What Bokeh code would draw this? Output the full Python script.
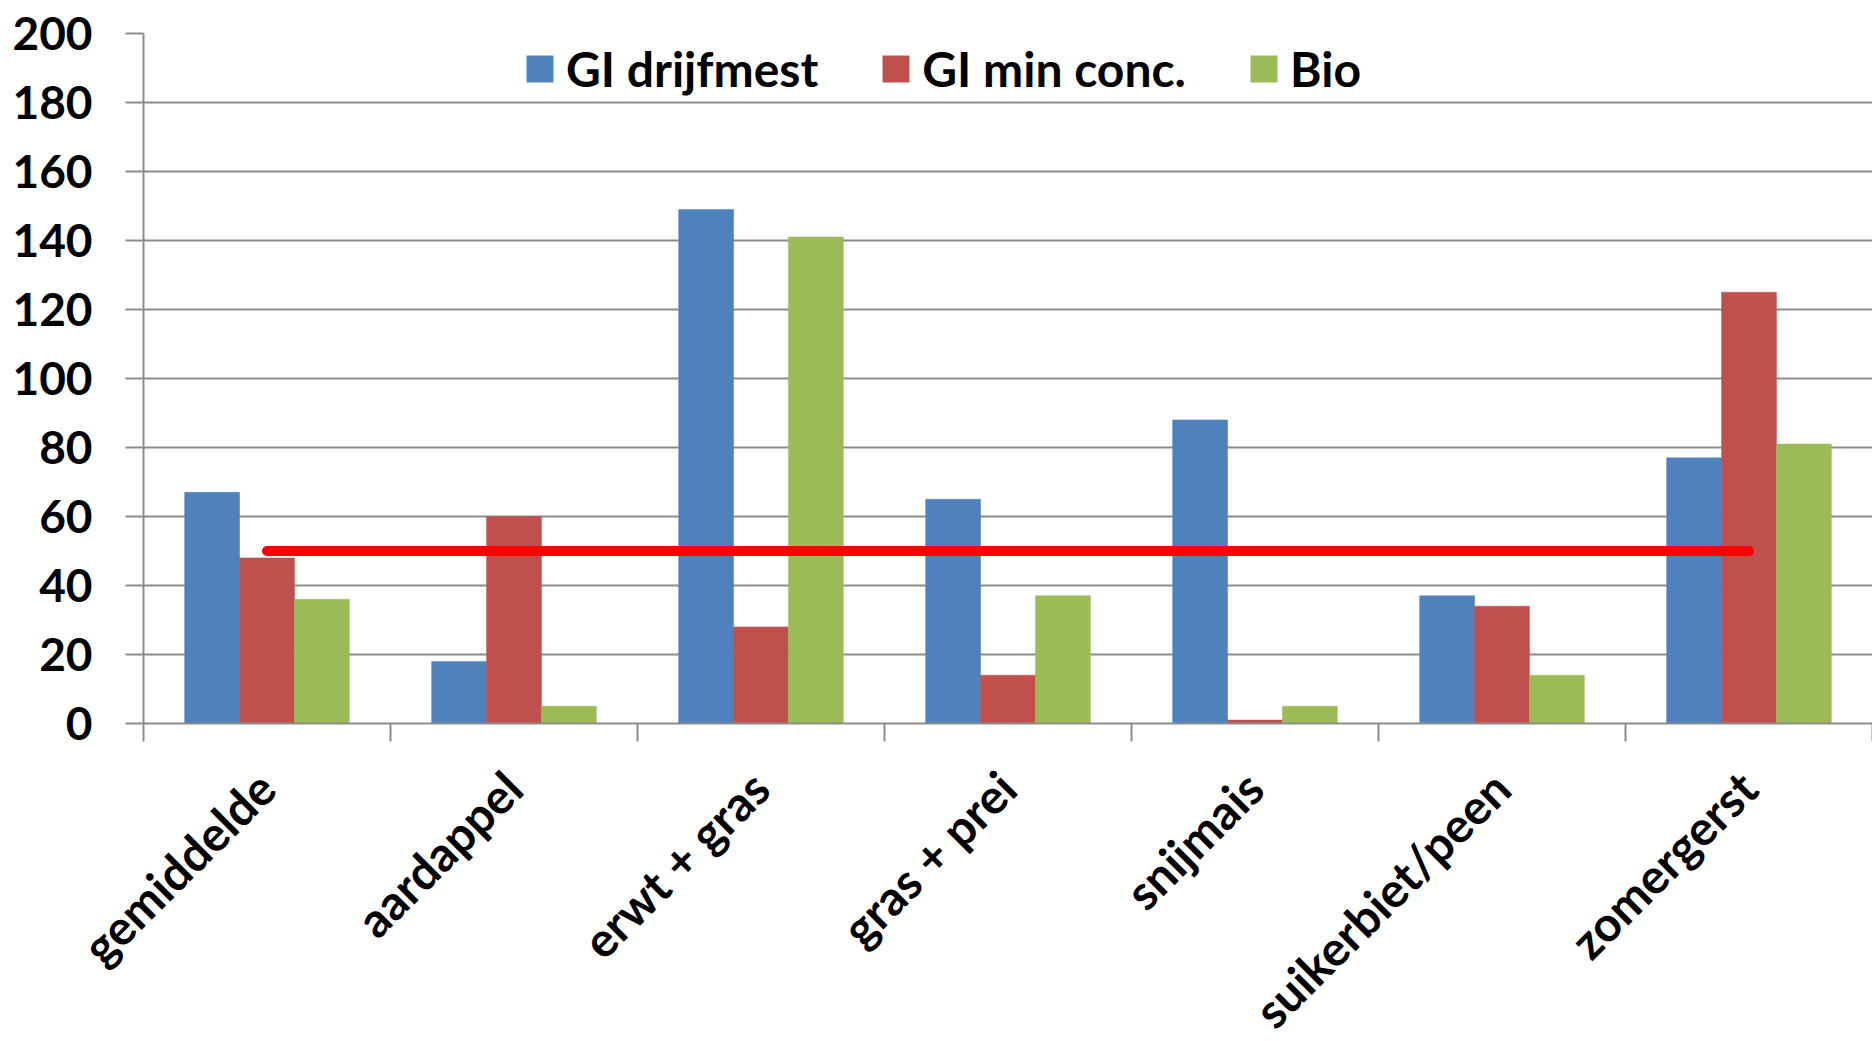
from math import pi

from bokeh.core.properties import value
from bokeh.embed import file_html
from bokeh.models import FixedTicker, Legend, LegendItem, Range1d, SingleIntervalTicker
from bokeh.plotting import figure
from bokeh.resources import INLINE

# Crops and series values
categories = ["gemiddelde", "aardappel", "erwt + gras", "gras + prei",
              "snijmais", "suikerbiet/peen", "zomergerst"]
series_names = ["GI drijfmest", "GI min conc.", "Bio"]
gi_drijfmest = [67, 18, 149, 65, 88, 37, 77]
gi_min_conc = [48, 60, 28, 14, 1, 34, 125]
bio = [36, 5, 141, 37, 5, 14, 81]
norm_value = 50

colors = ["#4F81BD", "#C0504D", "#9BBB59"]
grid_color = "#8c8c8c"
font = "Lato"

W = 1872
LEFT = 143
TOP_H = 760
n = len(categories)
bar_w = 1 / 4.5  # three bars plus a 150% gap per category
centers = [i + 0.5 for i in range(n)]

# ---- main bar chart ----
p = figure(width=W, height=TOP_H, output_backend="svg", toolbar_location=None,
           x_range=Range1d(0, n), y_range=Range1d(0, 200),
           min_border_left=LEFT, min_border_right=0, min_border_top=33,
           min_border_bottom=TOP_H - 723)
p.outline_line_color = None
p.background_fill_color = "white"
p.border_fill_color = "white"

renderers = []
for k, (vals, col) in enumerate(zip([gi_drijfmest, gi_min_conc, bio], colors)):
    xs = [c + (k - 1) * bar_w for c in centers]
    r = p.vbar(x=xs, top=vals, width=bar_w, bottom=0, fill_color=col,
               line_color=col, line_width=0.5)
    renderers.append(r)

# Norm line across the categories
p.line(x=[centers[0], centers[-1]], y=[norm_value, norm_value], line_color="#FF0000",
       line_width=10, line_cap="round")

p.xgrid.grid_line_color = None
p.ygrid.grid_line_color = grid_color
p.ygrid.grid_line_width = 2

# Y axis
p.yaxis.ticker = SingleIntervalTicker(interval=20, num_minor_ticks=0)
p.yaxis.axis_line_color = grid_color
p.yaxis.axis_line_width = 2
p.yaxis.major_tick_line_color = grid_color
p.yaxis.major_tick_line_width = 2
p.yaxis.major_tick_out = 18
p.yaxis.major_tick_in = 0
p.yaxis.minor_tick_line_color = None
p.yaxis.major_label_standoff = 33
p.yaxis.major_label_text_font = font
p.yaxis.major_label_text_font_style = "bold"
p.yaxis.major_label_text_font_size = "46px"
p.yaxis.major_label_text_color = "black"

# X axis: only tick marks at the category boundaries
p.xaxis.ticker = FixedTicker(ticks=[], minor_ticks=list(range(n + 1)))
p.xaxis.axis_line_color = grid_color
p.xaxis.axis_line_width = 2
p.xaxis.major_tick_line_color = None
p.xaxis.major_tick_out = 0
p.xaxis.major_tick_in = 0
p.xaxis.major_label_standoff = 0
p.xaxis.major_label_text_font_size = "0px"
p.xaxis.minor_tick_line_color = grid_color
p.xaxis.minor_tick_line_width = 2
p.xaxis.minor_tick_out = 18
p.xaxis.minor_tick_in = 0

legend = Legend(
    items=[LegendItem(label=name, renderers=[r]) for name, r in zip(series_names, renderers)],
    orientation="horizontal", location=(380, 626),
    glyph_width=33, glyph_height=33, label_standoff=10, spacing=61,
    padding=0, margin=0, border_line_color=None, background_fill_alpha=0,
    label_text_font=font, label_text_font_style="bold", label_text_font_size="48px",
    label_text_color="black",
)
p.add_layout(legend)

# ---- rotated category names under the chart, on the same category scale ----
cw = (W - LEFT) / n
p2 = figure(width=W, height=1041 - TOP_H, output_backend="svg", toolbar_location=None,
            x_range=Range1d(-LEFT / cw, n), y_range=Range1d(0, 1),
            min_border_left=0, min_border_right=0, min_border_top=0, min_border_bottom=0)
p2.outline_line_color = None
p2.axis.visible = False
p2.grid.visible = False
p2.background_fill_color = "white"
p2.border_fill_color = "white"
p2.text(x=centers, y=[1] * n, text=categories, angle=pi / 4,
        text_align="right", text_baseline="middle", x_offset=-1, y_offset=19,
        text_font=value(font), text_font_style="bold", text_font_size=value("48px"),
        text_color="black")

open("out.html", "w").write(file_html([p, p2], INLINE))
